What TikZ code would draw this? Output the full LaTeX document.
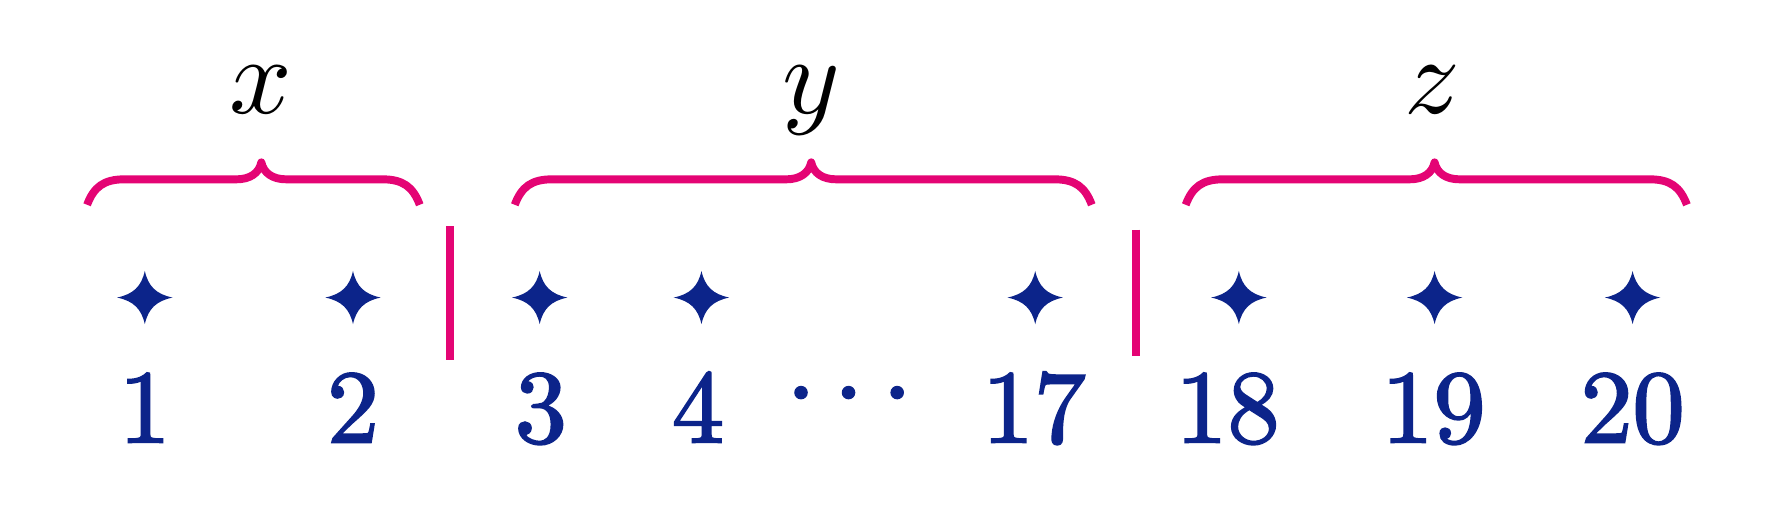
\documentclass[tikz,border=0pt]{standalone}
\usepackage{graphicx}
\definecolor{nblue}{RGB}{12,36,138}
\definecolor{mag}{RGB}{228,4,116}
\tikzset{
  sparkle/.pic={\fill[nblue] (0,-23.5) .. controls (3,-10) and (10,-3) .. (24.5,0) .. controls (10,3) and (3,10) .. (0,23.5) .. controls (-3,10) and (-10,3) .. (-24.5,0) .. controls (-10,-3) and (-3,-10) .. (0,-23.5) -- cycle;},
  numlbl/.style={anchor=base, inner sep=0pt, text=nblue},
  letlbl/.style={anchor=base, inner sep=0pt, text=black},
  bracestyle/.style={draw=mag, line width=7pt, line join=round},
  barstyle/.style={draw=mag, line width=7pt},
  dotstyle/.style={circle, fill=nblue, inner sep=0pt, minimum size=12pt}
}
\newcommand\mynum[1]{\scalebox{9.2}{\special{pdf:literal 2 Tr 0.2 w}$#1$\special{pdf:literal 0 Tr}}}
\newcommand\mylet[1]{\scalebox{9.7}{$#1$}}
\newcommand\mybrace[3]{\draw[bracestyle] (#1,181) .. controls (#1+6,165) and (#1+15,158.5) .. (#1+33,158.5) -- (#2-22,158.5) .. controls (#2-10,158.5) and (#2-2,153) .. (#2,143.5) .. controls (#2+2,153) and (#2+10,158.5) .. (#2+22,158.5) -- (#3-33,158.5) .. controls (#3-15,158.5) and (#3-6,165) .. (#3,181);}
\begin{document}
\begin{tikzpicture}[x=1pt,y=-1pt]
\useasboundingbox[fill=white] (0,0) rectangle (1568,463);
% labels
\node[letlbl] (lx) at (231,100) {\mylet{x}};
\node[letlbl] (ly) at (717,100) {\mylet{y}};
\node[letlbl] (lz) at (1266,100) {\mylet{z}};
% braces
\mybrace{77}{231}{371}
\mybrace{455}{717}{965}
\mybrace{1048}{1268}{1491}
% bars
\coordinate (b1t) at (398,200); \coordinate (b1b) at (398,318);
\coordinate (b2t) at (1004,203); \coordinate (b2b) at (1004,315);
\draw[barstyle] (b1t) -- (b1b);
\draw[barstyle] (b2t) -- (b2b);
% stars
\foreach \sx in {128,312,477,620,915,1095,1268,1443} {
  \pic at (\sx,263) {sparkle};
}
% numbers
\node[numlbl] (n1) at (128,391) {\mynum{1}};
\node[numlbl] (n2) at (312,391) {\mynum{2}};
\node[numlbl] (n3) at (478,391) {\mynum{3}};
\node[numlbl] (n4) at (617,391) {\mynum{4}};
\node[dotstyle] (d1) at (708,347) {};
\node[dotstyle] (d2) at (750,347) {};
\node[dotstyle] (d3) at (793,347) {};
\node[numlbl] (n17) at (914,391) {\mynum{17}};
\node[numlbl] (n18) at (1085,391) {\mynum{18}};
\node[numlbl] (n19) at (1267,391) {\mynum{19}};
\node[numlbl] (n20) at (1443,391) {\mynum{20}};
\end{tikzpicture}
\end{document}
